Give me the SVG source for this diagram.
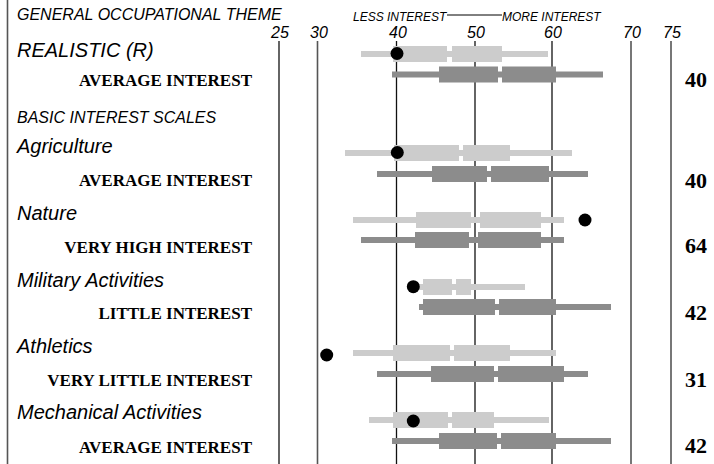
<svg xmlns="http://www.w3.org/2000/svg" width="714" height="464" viewBox="0 0 714 464">
<style>
.hd{font-family:"Liberation Sans",Arial,sans-serif;font-style:italic;font-size:16px;fill:#000}
.sc{font-family:"Liberation Sans",Arial,sans-serif;font-style:italic;font-size:20px;fill:#000}
.ax{font-family:"Liberation Sans",Arial,sans-serif;font-style:italic;font-size:16px;fill:#000;text-anchor:middle}
.li{font-family:"Liberation Sans",Arial,sans-serif;font-style:italic;font-size:12px;fill:#000}
.lv{font-family:"Liberation Serif","Times New Roman",serif;font-weight:bold;font-size:17px;fill:#000;text-anchor:end}
.nm{font-family:"Liberation Serif","Times New Roman",serif;font-weight:bold;font-size:22px;fill:#000;text-anchor:end}
.gb{stroke:#111;stroke-width:1.3}
.gg{stroke:#555;stroke-width:1.6}
.l{fill:#cccccc}
.d{fill:#8c8c8c}
.dot{fill:#000}
</style>
<g id="grid">
<line class="gg" x1="7.5" y1="0" x2="7.5" y2="464"/>
<line class="gb" x1="279" y1="41" x2="279" y2="464"/>
<line class="gg" x1="317.5" y1="41" x2="317.5" y2="464"/>
<line class="gb" x1="396.5" y1="41" x2="396.5" y2="464"/>
<line class="gb" x1="475" y1="41" x2="475" y2="464"/>
<line class="gb" x1="552" y1="41" x2="552" y2="464"/>
<line class="gg" x1="631" y1="41" x2="631" y2="464"/>
<line class="gg" x1="671" y1="41" x2="671" y2="464"/>
<text class="ax" x="280" y="38">25</text>
<text class="ax" x="319" y="38">30</text>
<text class="ax" x="398" y="38">40</text>
<text class="ax" x="476" y="38">50</text>
<text class="ax" x="553" y="38">60</text>
<text class="ax" x="632" y="38">70</text>
<text class="ax" x="672" y="38">75</text>
</g>
<g id="header">
<text class="hd" x="17" y="20">GENERAL OCCUPATIONAL THEME</text>
<text class="li" x="353" y="21">LESS INTEREST</text>
<line x1="447" y1="15" x2="502" y2="15" stroke="#000" stroke-width="1"/>
<text class="li" x="502" y="21">MORE INTEREST</text>
<text class="hd" x="17" y="123">BASIC INTEREST SCALES</text>
</g>
<g id="realistic">
<text class="sc" x="17" y="57">REALISTIC (R)</text>
<text class="lv" x="252" y="86">AVERAGE INTEREST</text>
<text class="nm" x="707" y="87">40</text>
<rect class="l" x="361" y="51" width="187" height="6"/>
<rect class="l" x="393" y="46" width="54" height="16"/>
<rect class="l" x="452" y="46" width="50" height="16"/>
<rect class="d" x="392" y="71.5" width="211" height="6"/>
<rect class="d" x="439" y="66.5" width="59" height="16"/>
<rect class="d" x="502" y="66.5" width="54" height="16"/>
<circle class="dot" cx="397" cy="53.5" r="6.5"/>
</g>
<g id="agriculture">
<text class="sc" x="17" y="153">Agriculture</text>
<text class="lv" x="252" y="186">AVERAGE INTEREST</text>
<text class="nm" x="707" y="188">40</text>
<rect class="l" x="345" y="150" width="227" height="6"/>
<rect class="l" x="394" y="145" width="65" height="16"/>
<rect class="l" x="463" y="145" width="47" height="16"/>
<rect class="d" x="377" y="171" width="211" height="6"/>
<rect class="d" x="432" y="166" width="55" height="16"/>
<rect class="d" x="491" y="166" width="58" height="16"/>
<circle class="dot" cx="397.3" cy="152.5" r="6.5"/>
</g>
<g id="nature">
<text class="sc" x="17" y="220">Nature</text>
<text class="lv" x="252" y="253">VERY HIGH INTEREST</text>
<text class="nm" x="707" y="253">64</text>
<rect class="l" x="353" y="217" width="211" height="6"/>
<rect class="l" x="416" y="212" width="55" height="16"/>
<rect class="l" x="480" y="212" width="61" height="16"/>
<rect class="d" x="361" y="237" width="203" height="6"/>
<rect class="d" x="415" y="232" width="54" height="16"/>
<rect class="d" x="478" y="232" width="63" height="16"/>
<circle class="dot" cx="585" cy="220" r="6.5"/>
</g>
<g id="military">
<text class="sc" x="17" y="287">Military Activities</text>
<text class="lv" x="252" y="319">LITTLE INTEREST</text>
<text class="nm" x="707" y="320">42</text>
<rect class="l" x="413" y="284" width="112" height="6"/>
<rect class="l" x="423" y="279" width="29" height="16"/>
<rect class="l" x="456" y="279" width="15" height="16"/>
<rect class="d" x="419" y="304" width="192" height="6"/>
<rect class="d" x="423" y="299" width="72" height="16"/>
<rect class="d" x="499" y="299" width="57" height="16"/>
<circle class="dot" cx="413.3" cy="286.7" r="6.5"/>
</g>
<g id="athletics">
<text class="sc" x="17" y="353">Athletics</text>
<text class="lv" x="252" y="386">VERY LITTLE INTEREST</text>
<text class="nm" x="707" y="387">31</text>
<rect class="l" x="353" y="350" width="203" height="6"/>
<rect class="l" x="393" y="345" width="57" height="16"/>
<rect class="l" x="454" y="345" width="56" height="16"/>
<rect class="d" x="377" y="371" width="211" height="6"/>
<rect class="d" x="431" y="366" width="63" height="16"/>
<rect class="d" x="498" y="366" width="66" height="16"/>
<circle class="dot" cx="326.7" cy="355" r="6.5"/>
</g>
<g id="mechanical">
<text class="sc" x="17" y="419">Mechanical Activities</text>
<text class="lv" x="252" y="453">AVERAGE INTEREST</text>
<text class="nm" x="707" y="453">42</text>
<rect class="l" x="369" y="417" width="180" height="6"/>
<rect class="l" x="393" y="412" width="55" height="16"/>
<rect class="l" x="452" y="412" width="42" height="16"/>
<rect class="d" x="392" y="438" width="219" height="6"/>
<rect class="d" x="439" y="433" width="58" height="16"/>
<rect class="d" x="501" y="433" width="55" height="16"/>
<circle class="dot" cx="413.3" cy="421" r="6.5"/>
</g>
<g id="connectors"></g>
</svg>
